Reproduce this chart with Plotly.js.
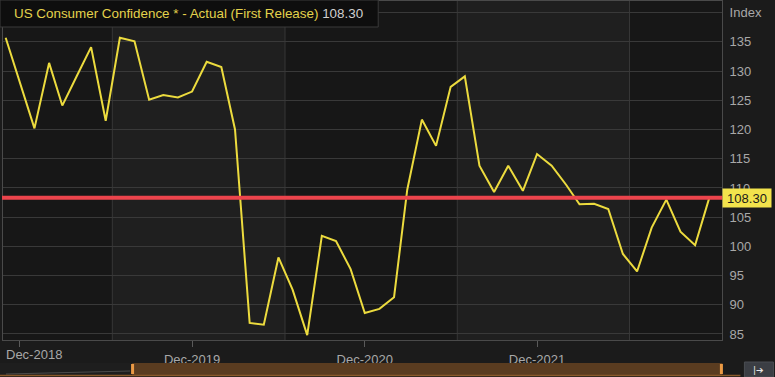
<!DOCTYPE html>
<html>
<head>
<meta charset="utf-8">
<script src="https://cdn.plot.ly/plotly-3.0.1.min.js"></script>
<style>
html,body{margin:0;padding:0;background:#1b1b1b;overflow:hidden;}
#chart{width:775px;height:377px;}
</style>
</head>
<body>
<div id="chart"></div>
<script>
// Data: US Consumer Confidence, Actual (First Release), monthly
var months = ["2018-11-01","2018-12-01",
  "2019-01-01","2019-02-01","2019-03-01","2019-04-01","2019-05-01","2019-06-01","2019-07-01","2019-08-01","2019-09-01","2019-10-01","2019-11-01","2019-12-01",
  "2020-01-01","2020-02-01","2020-03-01","2020-04-01","2020-05-01","2020-06-01","2020-07-01","2020-08-01","2020-09-01","2020-10-01","2020-11-01","2020-12-01",
  "2021-01-01","2021-02-01","2021-03-01","2021-04-01","2021-05-01","2021-06-01","2021-07-01","2021-08-01","2021-09-01","2021-10-01","2021-11-01","2021-12-01",
  "2022-01-01","2022-02-01","2022-03-01","2022-04-01","2022-05-01","2022-06-01","2022-07-01","2022-08-01","2022-09-01","2022-10-01","2022-11-01","2022-12-01"];
var confidence = [135.7,128.1,
  120.2,131.4,124.1,129.2,134.1,121.5,135.7,135.1,125.1,125.9,125.5,126.5,
  131.6,130.7,120.0,86.9,86.6,98.1,92.6,84.8,101.8,100.9,96.1,88.6,
  89.3,91.3,109.7,121.7,117.2,127.3,129.1,113.8,109.3,113.8,109.5,115.8,
  113.8,110.5,107.2,107.3,106.4,98.7,95.7,103.2,108.0,102.5,100.2,108.3];
var lastValue = 108.3;
var lastLabel = "108.30";
var seriesName = "US Consumer Confidence * - Actual (First Release)";
var xTickVals = ["2018-12-01","2019-12-01","2020-12-01","2021-12-01"];
var xTickText = ["Dec-2018","Dec-2019","Dec-2020","Dec-2021"];
var yTickVals = [85,90,95,100,105,110,115,120,125,130,135,140];
var yTickText = ["85","90","95","100","105","110","115","120","125","130","135","Index"];
var bandEdges = ["2018-10-01","2019-06-15","2020-06-15","2021-06-15","2022-06-15","2023-02-01"];

var W = 775, H = 377, mL = 3, mR = 53.4, mT = 1, mB = 37;
var pw = W - mL - mR, ph = H - mT - mB;
function px(X){ return (X - mL) / pw; }
function py(Y){ return (H - mB - Y) / ph; }

var FONT = 'Liberation Sans, Arial, sans-serif';
var shapes = [];
// alternating background bands
for (var i = 0; i < bandEdges.length - 1; i++) {
  shapes.push({type:'rect', xref:'x', yref:'paper', x0:bandEdges[i], x1:bandEdges[i+1], y0:0, y1:1,
    fillcolor: (i % 2 === 0) ? '#171717' : '#1f1f1f', line:{width:0}, layer:'below'});
}
// vertical grid lines at band edges
for (var j = 1; j < bandEdges.length - 1; j++) {
  shapes.push({type:'line', xref:'x', yref:'paper', x0:bandEdges[j], x1:bandEdges[j], y0:0, y1:1,
    line:{color:'#363636', width:1}, layer:'below'});
}
// red reference line at last value
shapes.push({type:'line', xref:'paper', yref:'y', x0:px(2), x1:px(722), y0:lastValue, y1:lastValue,
  line:{color:'#ec444c', width:4}, layer:'above'});
// title box
shapes.push({type:'rect', xref:'paper', yref:'paper', x0:px(0), x1:px(378), y0:py(27), y1:py(0),
  fillcolor:'#0e0e0e', line:{color:'#3a3a3a', width:1}, layer:'above'});
// navigator
shapes.push({type:'rect', xref:'paper', yref:'paper', x0:px(0), x1:px(132), y0:py(375), y1:py(363),
  fillcolor:'#1e1e1e', line:{width:0}});
shapes.push({type:'line', xref:'paper', yref:'paper', x0:px(6), x1:px(130), y0:py(374), y1:py(371),
  line:{color:'#4a4a4a', width:1}});
shapes.push({type:'rect', xref:'paper', yref:'paper', x0:px(132), x1:px(722), y0:py(375), y1:py(363),
  fillcolor:'#5a3c20', line:{width:0}});
shapes.push({type:'line', xref:'paper', yref:'paper', x0:px(0), x1:px(740), y0:py(375.5), y1:py(375.5),
  line:{color:'#8a5a2a', width:1.5}});
shapes.push({type:'rect', xref:'paper', yref:'paper', x0:px(131), x1:px(134), y0:py(374), y1:py(364),
  fillcolor:'#eb9a45', line:{width:0}});
shapes.push({type:'rect', xref:'paper', yref:'paper', x0:px(719.5), x1:px(722.5), y0:py(374), y1:py(364),
  fillcolor:'#eb9a45', line:{width:0}});
// button
shapes.push({type:'rect', xref:'paper', yref:'paper', x0:px(744), x1:px(773), y0:py(377), y1:py(362),
  fillcolor:'#3b3e44', line:{color:'#4a4d52', width:1}});

// first x tick label is pushed inside the canvas (as in the reference); the rest are centred on ticks
var axisTickText = xTickText.map(function(t, k){ return k === 0 ? '' : t; });

var annotations = [
  {xref:'paper', yref:'paper', x:px(12), y:py(14), xanchor:'left', yanchor:'middle', showarrow:false,
   text:'<span style="color:#e4d24c">' + seriesName + '</span> <span style="color:#d0d0d0">' + lastLabel + '</span>',
   font:{family:FONT, size:13.4}},
  {xref:'paper', yref:'y', x:1, y:lastValue, xanchor:'left', yanchor:'middle', showarrow:false,
   text:lastLabel, bgcolor:'#f2e34c', font:{family:FONT, size:13, color:'#1a1a1a'},
   width:44, height:14, borderpad:2},
  {xref:'paper', yref:'paper', x:px(4), y:py(354), xanchor:'left', yanchor:'middle', showarrow:false,
   text:xTickText[0], font:{family:FONT, size:13, color:'#a8a8a8'}},
  {xref:'paper', yref:'paper', x:px(758.5), y:py(369.5), xanchor:'center', yanchor:'middle', showarrow:false,
   text:'|➔', font:{family:'DejaVu Sans, sans-serif', size:9, color:'#e8e8e8'}}
];

var trace = {
  x: months, y: confidence, type:'scatter', mode:'lines',
  line:{color:'#ecdb3e', width:2}, hoverinfo:'x+y'
};

var layout = {
  width:W, height:H,
  margin:{l:mL, r:mR, t:mT, b:mB, pad:0},
  paper_bgcolor:'#1b1b1b', plot_bgcolor:'#1b1b1b',
  showlegend:false,
  font:{family:FONT, size:13, color:'#a8a8a8'},
  xaxis:{type:'date', range:['2018-10-26 08:00','2022-12-28'],
    tickvals:xTickVals, ticktext:axisTickText, ticks:'outside', ticklen:6, tickcolor:'#5a5a5a',
    showgrid:false, zeroline:false, showline:true, linecolor:'#4a4a4a', mirror:true,
    ticklabelstandoff:1,
    tickfont:{size:13, color:'#a8a8a8'}},
  yaxis:{side:'right', range:[83.97,142.0], tickvals:yTickVals, ticktext:yTickText,
    showgrid:true, gridcolor:'#393939', gridwidth:1, zeroline:false,
    showline:true, linecolor:'#4a4a4a', mirror:true, ticks:'', ticklabelstandoff:4,
    tickfont:{size:13, color:'#a8a8a8'}},
  shapes:shapes,
  annotations:annotations
};

Plotly.newPlot('chart', [trace], layout, {displayModeBar:false, staticPlot:true});
</script>
</body>
</html>
